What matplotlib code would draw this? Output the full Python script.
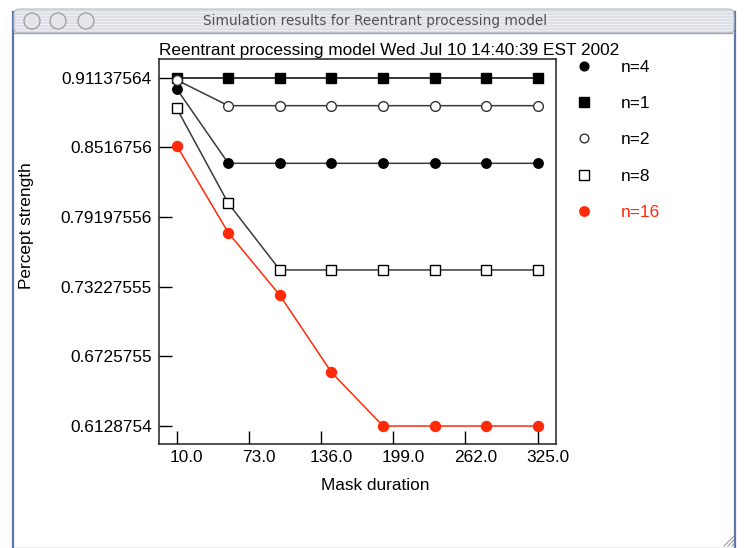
import numpy as np
import matplotlib
matplotlib.use('Agg')
import matplotlib.pyplot as plt
from matplotlib.patches import Rectangle, Ellipse, FancyBboxPatch
from matplotlib.lines import Line2D
from matplotlib.transforms import ScaledTranslation

# 数据
mask_duration = [10, 55, 100, 145, 190, 235, 280, 325]
n4 = [0.9017, 0.8380, 0.8380, 0.8380, 0.8380, 0.8380, 0.8380, 0.8380]
n1 = [0.91137564] * 8
n2 = [0.9094, 0.8874, 0.8874, 0.8874, 0.8874, 0.8874, 0.8874, 0.8874]
n8 = [0.8851, 0.8037, 0.7466, 0.7466, 0.7466, 0.7466, 0.7466, 0.7466]
n16 = [0.8531, 0.7785, 0.7249, 0.6589, 0.6128754, 0.6128754, 0.6128754, 0.6128754]

x_ticks = [10.0, 73.0, 136.0, 199.0, 262.0, 325.0]
x_tick_labels = ['10.0', '73.0', '136.0', '199.0', '262.0', '325.0']
y_tick_labels = ['0.91137564', '0.8516756', '0.79197556', '0.73227555', '0.6725755', '0.6128754']

W, H = 746, 548
FS = 12.4
plt.rcParams['font.family'] = ['Liberation Sans', 'DejaVu Sans']

fig = plt.figure(figsize=(W / 100, H / 100), dpi=100)
fig.patch.set_facecolor('white')


def fx(x):
    return x / W


def fy(y):
    return 1 - y / H


# 窗口外框
fig.patches.append(Rectangle((fx(13), fy(549)), fx(735) - fx(13), fy(12) - fy(549),
                             transform=fig.transFigure, facecolor='white',
                             edgecolor='#5b77a6', linewidth=1.6, zorder=-5))
# 标题栏
fig.patches.append(FancyBboxPatch((fx(14), fy(33)), fx(734) - fx(14), fy(9) - fy(33),
                                  boxstyle='round,pad=0,rounding_size=0.008',
                                  transform=fig.transFigure, facecolor='#dcdfe6',
                                  edgecolor='#b9bcc4', linewidth=0.8, zorder=-4))
for yy in range(12, 32, 3):
    fig.lines.append(Line2D([fx(16), fx(732)], [fy(yy), fy(yy)], transform=fig.transFigure,
                            color='#eceef2', linewidth=0.9, zorder=-3))
fig.lines.append(Line2D([fx(14), fx(734)], [fy(33), fy(33)], transform=fig.transFigure,
                        color='#a3a6ad', linewidth=1.0, zorder=-3))
for cx in [32, 58, 86]:
    fig.patches.append(Ellipse((fx(cx), fy(21)), 16 / W, 16 / H, transform=fig.transFigure,
                               facecolor='#e4e6ea', edgecolor='#9a9ca2', linewidth=0.9,
                               zorder=-2))
fig.text(fx(375), fy(20.5), 'Simulation results for Reentrant processing model',
         ha='center', va='center', fontsize=9.8, color='#505050',
         family=['DejaVu Sans'])

# 右下角缩放手柄
for k in range(3):
    fig.lines.append(Line2D([fx(724 + 4 * k), fx(734)], [fy(546), fy(536 + 4 * k)],
                            transform=fig.transFigure, color='#9a9a9a', linewidth=0.8))

# 绘图区
ax = fig.add_axes([fx(159), fy(444), fx(556) - fx(159), fy(59) - fy(444)])
ax.set_facecolor('white')
line_col = '#3a3a3a'
red = '#ff2a08'

ax.plot(mask_duration, n4, '-', color=line_col, lw=1.1, marker='o', ms=6.8,
        mfc='black', mec='black', zorder=3)
ax.plot(mask_duration, n1, '-', color='black', lw=1.1, marker='s', ms=7.0,
        mfc='black', mec='black', zorder=3)
ax.plot(mask_duration, n2, '-', color=line_col, lw=1.1, marker='o', ms=7.0,
        mfc='white', mec='#333333', mew=1.0, zorder=3)
ax.plot(mask_duration, n8, '-', color=line_col, lw=1.1, marker='s', ms=7.5,
        mfc='white', mec='black', mew=1.0, zorder=3)
ax.plot(mask_duration, n16, '-', color=red, lw=1.1, marker='o', ms=7.2,
        mfc=red, mec=red, zorder=3)

ax.set_xlim(-5.5, 341)
ax.set_ylim(0.59745, 0.9274)
ax.set_xticks(x_ticks)
ax.set_xticklabels(x_tick_labels)
ax.set_yticks([float(v) for v in y_tick_labels])
ax.set_yticklabels(y_tick_labels)
ax.tick_params(direction='in', length=9.5, width=1.0, labelsize=FS, color='black')
ax.tick_params(axis='x', pad=4)
ax.tick_params(axis='y', pad=5)
for s in ax.spines.values():
    s.set_linewidth(1.1)
    s.set_color('#222222')

offset = ScaledTranslation(10 / 100, 0, fig.dpi_scale_trans)
for lbl in ax.get_xticklabels():
    lbl.set_transform(lbl.get_transform() + offset)

ax.set_title('Reentrant processing model Wed Jul 10 14:40:39 EST 2002', loc='left',
             fontsize=FS, pad=3)
fig.text(fx(375), fy(486), 'Mask duration', ha='center', va='center', fontsize=FS)
fig.text(fx(27), fy(226), 'Percept strength', ha='center', va='center', fontsize=FS,
         rotation=90)

# 图例
handles = [
    Line2D([], [], ls='none', marker='o', ms=6.3, mfc='black', mec='black'),
    Line2D([], [], ls='none', marker='s', ms=6.5, mfc='black', mec='black'),
    Line2D([], [], ls='none', marker='o', ms=6.3, mfc='white', mec='#333333'),
    Line2D([], [], ls='none', marker='s', ms=6.5, mfc='white', mec='black'),
    Line2D([], [], ls='none', marker='o', ms=6.8, mfc=red, mec=red),
]
leg = fig.legend(handles, ['n=4', 'n=1', 'n=2', 'n=8', 'n=16'], loc='upper left',
                 bbox_to_anchor=(fx(567), fy(59.5)), frameon=False, fontsize=FS,
                 handlelength=1.95, handletextpad=1.15, labelspacing=1.24,
                 borderpad=0, borderaxespad=0)
leg.get_texts()[4].set_color(red)

fig.savefig('out.png', dpi=100)
